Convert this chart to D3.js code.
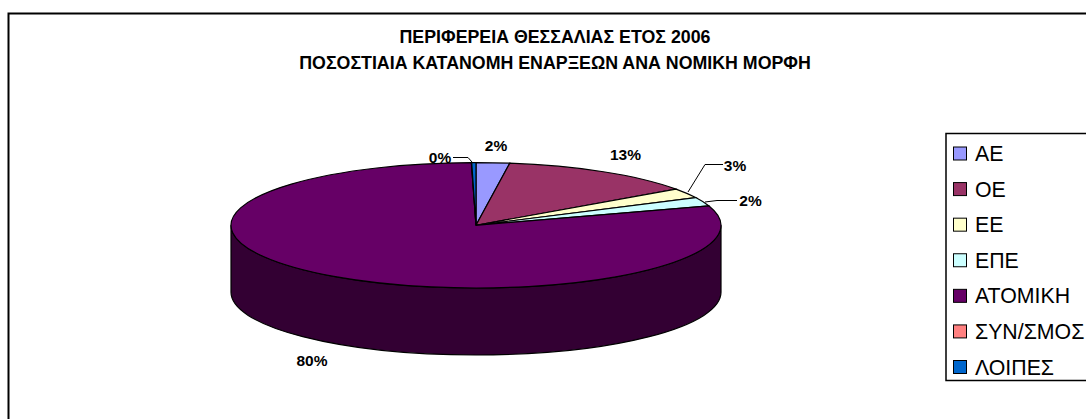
<!DOCTYPE html>
<html>
<head>
<meta charset="utf-8">
<script src="https://cdn.jsdelivr.net/npm/d3@7"></script>
<style>
  html, body { margin: 0; padding: 0; background: #fff; overflow: hidden; }
  text { font-family: "Liberation Sans", Arial, sans-serif; fill: #000; }
</style>
</head>
<body>
<div id="chart"></div>
<script>
const categories = ["ΑΕ", "ΟΕ", "ΕΕ", "ΕΠΕ", "ΑΤΟΜΙΚΗ", "ΣΥΝ/ΣΜΟΣ", "ΛΟΙΠΕΣ"];
const shares = [2.2, 13.0, 2.5, 2.3, 79.7, 0.02, 0.28];
const colors = ["#9999ff", "#993366", "#ffffcc", "#ccffff", "#660066", "#ff8080", "#0066cc"];
const titleLines = ["ΠΕΡΙΦΕΡΕΙΑ ΘΕΣΣΑΛΙΑΣ ΕΤΟΣ 2006", "ΠΟΣΟΣΤΙΑΙΑ ΚΑΤΑΝΟΜΗ ΕΝΑΡΞΕΩΝ ΑΝΑ ΝΟΜΙΚΗ ΜΟΡΦΗ"];

const width = 1086;
const height = 419;
const cx = 476;
const cy = 225.3;
const rx = 245;
const ry = 62.7;
const depth = 67;
const sideColor = "#330033";

// label spots, one per category that shows a label (ΣΥΝ/ΣΜΟΣ has none)
const labelSpots = {
  "ΑΕ": { x: 496, y: 151 },
  "ΟΕ": { x: 625.5, y: 160 },
  "ΕΕ": { x: 735, y: 170.5 },
  "ΕΠΕ": { x: 750.5, y: 206 },
  "ΑΤΟΜΙΚΗ": { x: 312, y: 366 },
  "ΛΟΙΠΕΣ": { x: 440, y: 162.5 },
};
// leader polylines, [[x, y], ...] from the label to the slice rim
const leaders = {
  "ΕΕ": [[723, 164.5], [705, 164.5], [688, 192]],
  "ΕΠΕ": [[737, 200.5], [717, 200.5], [705, 202]],
  "ΛΟΙΠΕΣ": [[453, 157.5], [468, 157.5], [472, 162]],
};

const svg = d3.select("#chart").append("svg")
  .attr("width", width)
  .attr("height", height);

// outer frame, its right and bottom edges fall outside the picture
svg.append("rect")
  .attr("x", 8.5).attr("y", 13.5)
  .attr("width", 1100).attr("height", 440)
  .attr("fill", "#fff")
  .attr("stroke", "#000").attr("stroke-width", 2);

svg.selectAll("text.title").data(titleLines).enter().append("text")
  .attr("class", "title")
  .attr("x", 555)
  .attr("y", (d, i) => 43 + i * 25.5)
  .attr("text-anchor", "middle")
  .attr("font-size", 17.8)
  .attr("font-weight", "bold")
  .text((d) => d);

const pie = d3.pie().sort(null)(shares);
const arc = d3.arc().innerRadius(0).outerRadius(rx);
const rim = (a, dy = 0) => [cx + rx * Math.sin(a), cy + dy - ry * Math.cos(a)];

// side wall, only the front half of the disc can be seen
const wall = svg.append("g");
pie.forEach((d) => {
  const a0 = Math.max(d.startAngle, Math.PI / 2);
  const a1 = Math.min(d.endAngle, Math.PI * 1.5);
  if (a1 <= a0) return;
  const s0 = rim(a0), s1 = rim(a1), b0 = rim(a0, depth), b1 = rim(a1, depth);
  const big = a1 - a0 > Math.PI ? 1 : 0;
  const dPath = `M${s0}A${rx},${ry} 0 ${big} 1 ${s1}L${b1}A${rx},${ry} 0 ${big} 0 ${b0}Z`;
  wall.append("path")
    .attr("d", dPath)
    .attr("fill", sideColor)
    .attr("stroke", "#000").attr("stroke-width", 1.2);
});

// top of the disc: a flat pie squashed into an ellipse
svg.append("g")
  .attr("transform", `translate(${cx},${cy}) scale(1,${ry / rx})`)
  .selectAll("path").data(pie).enter().append("path")
  .attr("d", arc)
  .attr("fill", (d, i) => colors[i])
  .attr("stroke", "#000").attr("stroke-width", 1.2)
  .attr("vector-effect", "non-scaling-stroke");

const line = d3.line();
categories.forEach((c) => {
  if (leaders[c]) {
    svg.append("path")
      .attr("d", line(leaders[c]))
      .attr("fill", "none")
      .attr("stroke", "#000").attr("stroke-width", 1);
  }
});

categories.forEach((c, i) => {
  const spot = labelSpots[c];
  if (!spot) return;
  svg.append("text")
    .attr("x", spot.x).attr("y", spot.y)
    .attr("text-anchor", "middle")
    .attr("font-size", 15.5)
    .attr("font-weight", "bold")
    .text(Math.round(shares[i]) + "%");
});

// legend, its right edge also falls outside the picture
const legendX = 946;
const legendTop = 133.5;
const legendBottom = 380.5;
svg.append("rect")
  .attr("x", legendX).attr("y", legendTop)
  .attr("width", 200).attr("height", legendBottom - legendTop)
  .attr("fill", "#fff")
  .attr("stroke", "#000").attr("stroke-width", 1.5);

const legendY = d3.scalePoint().domain(categories).range([153.5, 367]);
const items = svg.selectAll("g.item").data(categories).enter().append("g")
  .attr("class", "item")
  .attr("transform", (d) => `translate(${legendX},${legendY(d)})`);
items.append("rect")
  .attr("x", 7.5).attr("y", -6.5)
  .attr("width", 13).attr("height", 13)
  .attr("fill", (d, i) => colors[i])
  .attr("stroke", "#000").attr("stroke-width", 1);
items.append("text")
  .attr("x", 29).attr("y", 7.5)
  .attr("font-size", 21.3)
  .text((d) => d);
</script>
</body>
</html>
